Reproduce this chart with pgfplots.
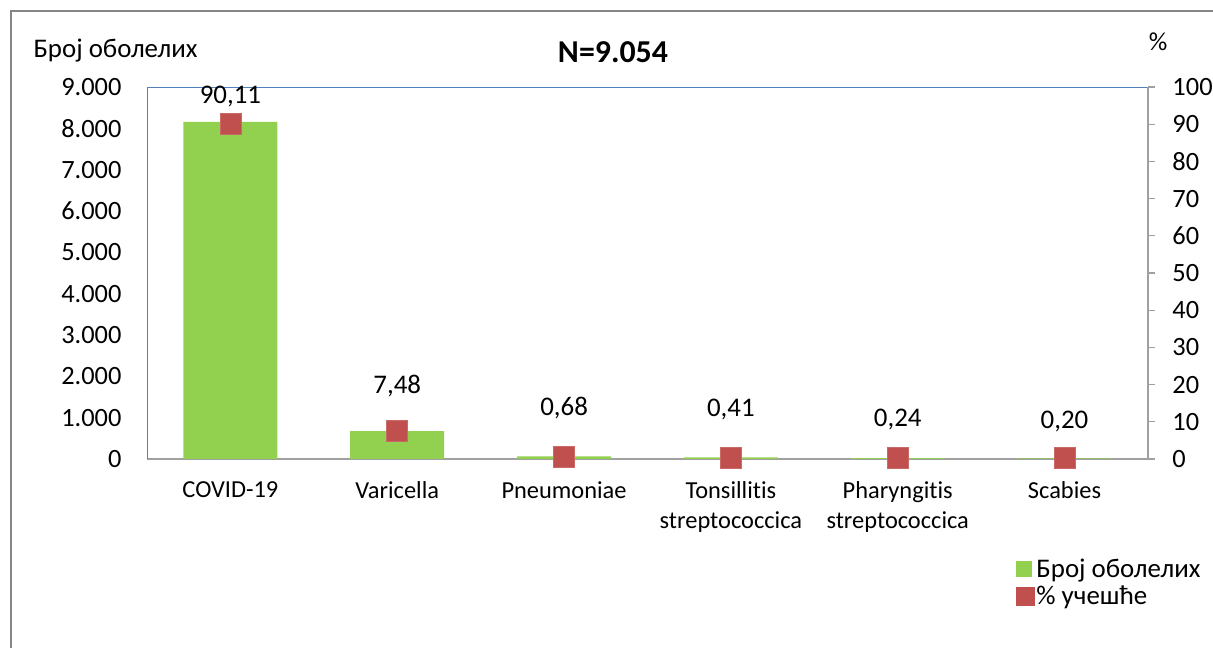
\documentclass[border=0pt]{standalone}
\usepackage{pgfplots}
\pgfplotsset{compat=1.18}
\usepackage{pgfplotstable}
\usepackage{fontspec}
\setmainfont{Carlito}[Ligatures={NoCommon}]
\definecolor{barg}{RGB}{146,208,80}
\definecolor{mred}{RGB}{192,80,77}
\definecolor{axblue}{RGB}{79,129,189}
\definecolor{axgray}{RGB}{160,160,160}
\definecolor{framegray}{RGB}{134,134,134}

\pgfplotstableread{
x count pct off
0 8158 90.11 27
1 677 7.48 45
2 62 0.68 48
3 37 0.41 48
4 22 0.24 39
5 18 0.20 37
}\data

\begin{document}
\begin{tikzpicture}
\path[use as bounding box] (0,0) rectangle (1213bp,648bp);
\fill[white] (0,0) rectangle (1213bp,648bp);
\draw[framegray, line width=2.5bp] (11bp,-5bp) -- (11bp,637bp) -- (1220bp,637bp);

\begin{axis}[
  at={(147bp,189bp)}, anchor=south west,
  scale only axis, width=1001bp, height=372bp,
  xmin=-0.5, xmax=5.5, ymin=0, ymax=9000,
  axis x line*=bottom, axis y line*=left,
  x axis line style={axgray, line width=1.5bp},
  y axis line style={axblue, line width=1bp},
  xtick={0,1,2,3,4,5},
  xticklabels={COVID-19, Varicella, Pneumoniae, Tonsillitis\\streptococcica, Pharyngitis\\streptococcica, Scabies},
  xticklabel style={font=\fontsize{24.5}{30}\selectfont, align=center, anchor=north, yshift=-19bp},
  major tick length=0pt,
  ytick={0,1000,...,9000},
  yticklabel style={font=\fontsize{26.5}{30}\selectfont, anchor=east, xshift=-22bp},
  /pgf/number format/.cd, 1000 sep={.}, assume math mode=true,
  /pgfplots/.cd,
  ybar, bar width=94bp,
]
\addplot[fill=barg, draw=none] table[x=x, y=count] {\data};
\draw[axblue, line width=1bp] (rel axis cs:0,1) -- (rel axis cs:1,1);
\end{axis}

\begin{axis}[
  at={(147bp,189bp)}, anchor=south west,
  scale only axis, width=1001bp, height=372bp,
  xmin=-0.5, xmax=5.5, ymin=0, ymax=100,
  axis x line=none, axis y line*=right,
  y axis line style={axgray, line width=1.5bp},
  ytick={0,10,...,100},
  ytick style={axgray, line width=1.2bp},
  tick align=outside, major tick length=7bp,
  yticklabel style={font=\fontsize{26.5}{30}\selectfont, anchor=west, xshift=14bp},
  clip=false,
  /pgf/number format/assume math mode=true,
  legend style={at={(axis description cs:0.868,-0.262)}, anchor=north west, draw=none, fill=none,
    font=\fontsize{27}{30}\selectfont, row sep=3bp, inner sep=0pt},
  legend cell align=left,
]
\addlegendimage{legend image code/.code={\fill[barg] (0bp,-7.5bp) rectangle (15bp,7.5bp);}}
\addlegendentry{Број оболелих}
\addplot[only marks, mark=square*, mark size=10.5bp, mark options={fill=mred, draw=mred!85!white, line width=0.8bp},
  nodes near coords,
  point meta=y,
  visualization depends on={\thisrow{off} \as \off},
  every node near coord/.append style={anchor=center, yshift=\off bp, font=\fontsize{27}{30}\selectfont, text=black,
    /pgf/number format/.cd, use comma, fixed, fixed zerofill, precision=2, assume math mode=true},
  legend image code/.code={\fill[mred] (0bp,-9bp) rectangle (18bp,9bp);}
] table[x=x, y=pct] {\data};
\addlegendentry{\% учешће}
\end{axis}

\node[anchor=west, font=\fontsize{27}{30}\selectfont] at (30bp,597bp) {Број оболелих};
\node[font=\bfseries\fontsize{32}{36}\selectfont] at (613bp,596bp) {N=9.054};
\node[font=\fontsize{26}{28}\selectfont] at (1158bp,606bp) {\%};
\end{tikzpicture}
\end{document}
